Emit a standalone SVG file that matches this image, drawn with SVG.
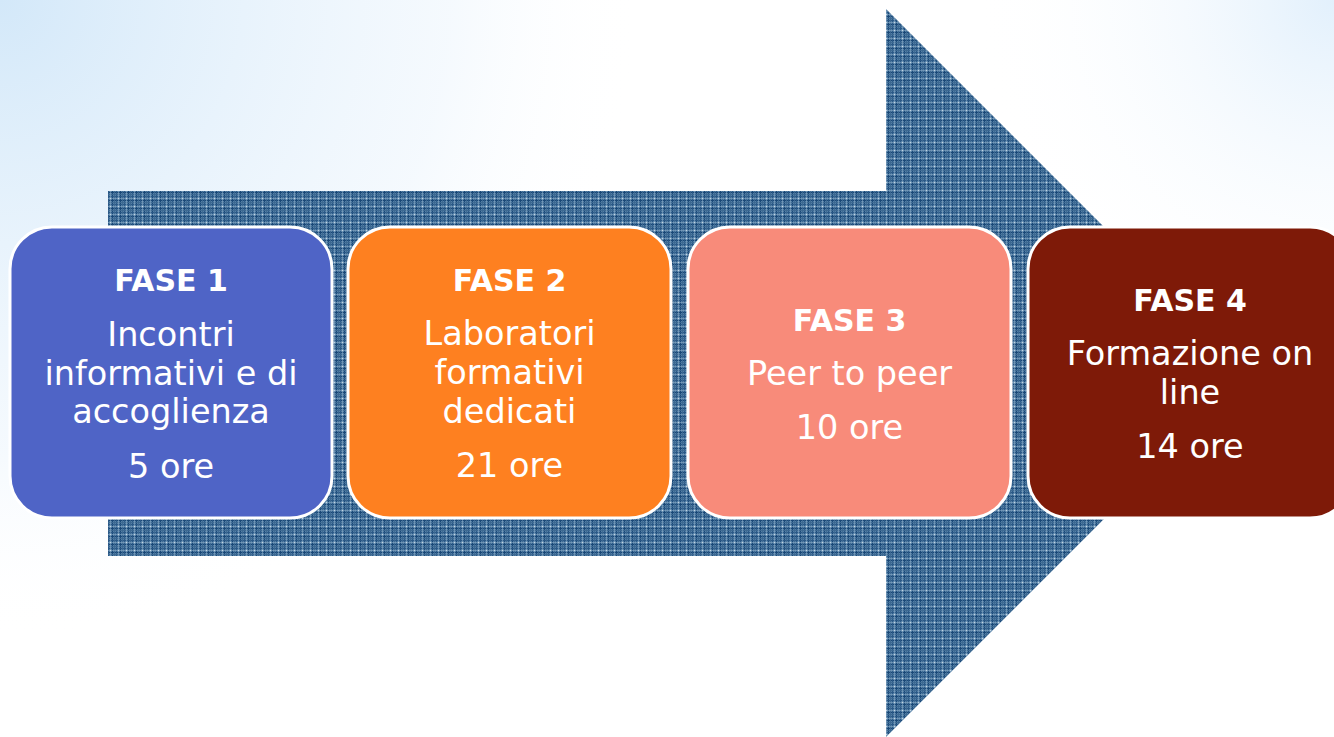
<svg xmlns="http://www.w3.org/2000/svg" width="1334" height="737" viewBox="0 0 1334 737">
  <defs>
    <radialGradient id="bgTL" cx="0" cy="0" r="640" gradientUnits="userSpaceOnUse">
      <stop offset="0" stop-color="#D3E8F9"/>
      <stop offset="0.7" stop-color="#EEF6FD" stop-opacity="0.6"/>
      <stop offset="1" stop-color="#FFFFFF" stop-opacity="0"/>
    </radialGradient>
    <radialGradient id="bgTR" cx="1334" cy="0" r="360" gradientUnits="userSpaceOnUse">
      <stop offset="0" stop-color="#E2F0FC"/>
      <stop offset="1" stop-color="#FFFFFF" stop-opacity="0"/>
    </radialGradient>
    <pattern id="plaid" width="8" height="8" patternUnits="userSpaceOnUse">
      <rect width="8" height="8" fill="#5380A6"/>
      <rect x="0" y="0" width="1" height="8" fill="#1A4877"/>
      <rect x="0" y="0" width="8" height="1" fill="#1A4877"/>
      <rect x="4" y="0" width="1" height="8" fill="#2B5987"/>
      <rect x="0" y="4" width="8" height="1" fill="#2B5987"/>
      <rect x="2" y="0" width="1" height="8" fill="#3D6992"/>
      <rect x="0" y="2" width="8" height="1" fill="#3D6992"/>
      <rect x="6" y="0" width="1" height="8" fill="#88A8C5" opacity="0.6"/>
      <rect x="0" y="6" width="8" height="1" fill="#88A8C5" opacity="0.6"/>
      <rect x="6" y="6" width="1" height="1" fill="#C2D5E4"/>
    </pattern>
    <style>
      .box { stroke: #FFFFFF; stroke-width: 3; }
      .t { font-family: "DejaVu Sans", Verdana, sans-serif; fill: #FFFFFF; text-anchor: middle; }
      .h { font-weight: bold; font-size: 30px; }
      .r { font-size: 33.5px; }
    </style>
  </defs>

  <rect width="1334" height="737" fill="#FFFFFF"/>
  <rect width="1334" height="737" fill="url(#bgTL)"/>
  <rect width="1334" height="737" fill="url(#bgTR)"/>

  <g id="connectors">
    <path d="M108 191 H886 V9 L1250 373 L886 737 V556 H108 Z" fill="url(#plaid)"/>
  </g>

  <g id="fase1">
    <rect class="box" x="10" y="227" width="322" height="291" rx="42" fill="#4F64C6"/>
    <text class="t h" x="171" y="291">FASE 1</text>
    <text class="t r" x="171" y="346">Incontri</text>
    <text class="t r" x="171" y="385">informativi e di</text>
    <text class="t r" x="171" y="423">accoglienza</text>
    <text class="t r" x="171" y="478">5 ore</text>
  </g>

  <g id="fase2">
    <rect class="box" x="348" y="227" width="323" height="291" rx="42" fill="#FE8020"/>
    <text class="t h" x="509.5" y="291">FASE 2</text>
    <text class="t r" x="509.5" y="345">Laboratori</text>
    <text class="t r" x="509.5" y="384">formativi</text>
    <text class="t r" x="509.5" y="423">dedicati</text>
    <text class="t r" x="509.5" y="477">21 ore</text>
  </g>

  <g id="fase3">
    <rect class="box" x="688" y="227" width="323" height="291" rx="42" fill="#F88B7A"/>
    <text class="t h" x="849.5" y="331">FASE 3</text>
    <text class="t r" x="849.5" y="385">Peer to peer</text>
    <text class="t r" x="849.5" y="439">10 ore</text>
  </g>

  <g id="fase4">
    <rect class="box" x="1028" y="227" width="324" height="291" rx="42" fill="#7E1A08"/>
    <text class="t h" x="1190" y="311">FASE 4</text>
    <text class="t r" x="1190" y="365">Formazione on</text>
    <text class="t r" x="1190" y="404">line</text>
    <text class="t r" x="1190" y="458">14 ore</text>
  </g>
</svg>
